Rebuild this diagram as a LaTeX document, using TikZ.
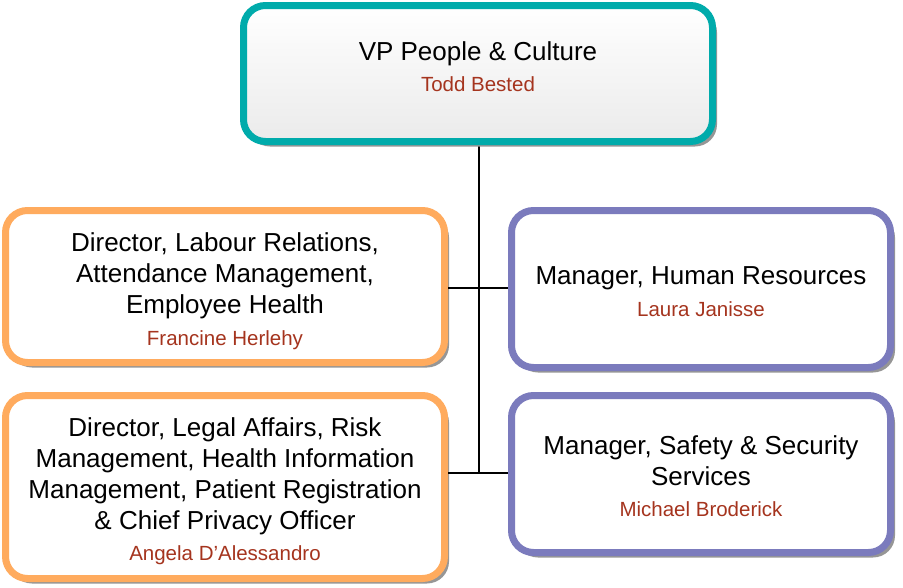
\documentclass[tikz,border=0pt]{standalone}
\usepackage{fontspec}
\setmainfont{Liberation Sans}
\usepackage{xcolor}
\usetikzlibrary{positioning}

\definecolor{vpteal}{RGB}{0,171,171}
\definecolor{dirorange}{RGB}{255,171,94}
\definecolor{mgrpurple}{RGB}{123,123,189}
\definecolor{namered}{RGB}{165,52,30}
\definecolor{shadowgray}{RGB}{150,150,150}

\newcommand{\posname}[1]{\\[0.5pt]{\fontsize{20.5}{26}\selectfont\color{namered}#1}}
\newcommand{\toppad}[1]{\rule{0pt}{#1}}

\tikzset{
  orgbox/.style={rounded corners=22pt, line width=7pt, align=center, inner sep=0pt,
    font=\fontsize{26}{31}\selectfont,
    preaction={fill=shadowgray, transform canvas={shift={(4.5pt,-5pt)}}}},
  vpbox/.style={orgbox, draw=vpteal, top color=white, bottom color=black!8,
    minimum width=469pt, minimum height=136pt},
  dirbox/.style={orgbox, draw=dirorange, fill=white, minimum width=439pt},
  mgrbox/.style={orgbox, draw=mgrpurple, fill=white, minimum width=379pt, minimum height=157pt},
  linkline/.style={line width=2pt, black}
}

\begin{document}
\begin{tikzpicture}[x=1pt,y=1pt,yscale=-1,xscale=1]
\useasboundingbox (0,0) rectangle (903,587);

% connectors first, boxes on top
\coordinate (spine) at (479,473);
\draw [linkline] (479,141) -- (spine);

% Top box
\node [vpbox] (vp) at (478,73.5) {VP People \& Culture\posname{Todd Bested}\\[-17pt]};

% Directors
\node [dirbox, minimum height=152pt] (labour) at (225,286.5)
  {\toppad{28pt}Director, Labour Relations,\\Attendance Management,\\Employee Health\posname{Francine Herlehy}};
\node [dirbox, minimum height=183pt] (legal) at (225,487)
  {\toppad{27pt}Director, Legal Affairs, Risk\\Management, Health Information\\Management, Patient Registration\\\& Chief Privacy Officer\posname{Angela D'Alessandro}};

% Managers
\node [mgrbox] (hr) at (701,289) {\toppad{23pt}Manager, Human Resources\posname{Laura Janisse}};
\node [mgrbox] (safety) at (701,474) {\toppad{23pt}Manager, Safety \& Security\\Services\posname{Michael Broderick}};

% Branches
\draw [linkline] (labour.east |- 0,288) -- (hr.west |- 0,288);
\draw [linkline] (legal.east |- spine) -- (safety.west |- spine);
\end{tikzpicture}
\end{document}
